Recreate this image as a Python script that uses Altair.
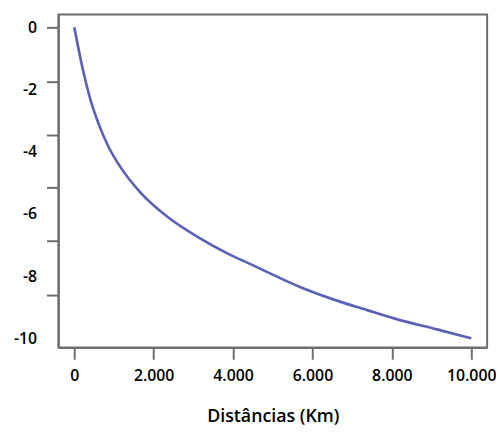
import json
import altair as alt
import pandas as pd

# Curve (distance in km, value)
dist_km = [0, 100, 224, 390, 597, 846, 1177, 1674, 2338, 3085, 3831, 4535,
           5655, 6485, 7396, 8226, 9137, 10000]
valores = [0, -0.65, -1.40, -2.25, -3.05, -3.80, -4.52, -5.32, -6.08, -6.72,
           -7.25, -7.67, -8.33, -8.73, -9.10, -9.42, -9.71, -10.0]

x_ticks = [0, 2000, 4000, 6000, 8000, 10000]
# tick marks of the original axis sit at these values, labels at their own values
y_tick_vals = [0, -1.746, -3.460, -5.143, -6.857, -8.603]
y_label_vals = [0, -2, -4, -6, -8, -10]
y_tick_labels = ["0", "-2", "-4", "-6", "-8", "-10"]

df = pd.DataFrame({"dist": dist_km, "valor": valores})

gray = "#6e6e6e"
font = "Open Sans"

idx = f"indexof({json.dumps(y_tick_vals)}, datum.value)"
y_label_expr = f"{json.dumps(y_tick_labels)}[{idx}]"
y_offset_expr = f"scale('y', {json.dumps(y_label_vals)}[{idx}]) - scale('y', datum.value)"

chart = (
    alt.Chart(df)
    .mark_line(color="#5a62b8", strokeWidth=2.7, interpolate="monotone")
    .encode(
        x=alt.X(
            "dist:Q",
            scale=alt.Scale(domain=[-400, 10400], nice=False, zero=False),
            axis=alt.Axis(
                values=x_ticks,
                labelExpr="replace(format(datum.value, ','), ',', '.')",
                title="Distâncias (Km)",
                titleFont=font,
                titleFontSize=18,
                titleFontWeight=600,
                titleColor="black",
                titlePadding=25,
                labelFont=font,
                labelFontSize=16,
                labelFontWeight=600,
                labelColor="black",
                labelPadding=8,
                tickSize=12,
                tickWidth=2,
                tickColor=gray,
                domainColor=gray,
                domainWidth=2,
                grid=False,
                labelFlush=False,
            ),
        ),
        y=alt.Y(
            "valor:Q",
            scale=alt.Scale(domain=[-10.29, 0.41], nice=False, zero=False),
            axis=alt.Axis(
                values=y_tick_vals,
                labelExpr=y_label_expr,
                labelOffset={"expr": y_offset_expr},
                title=None,
                labelFont=font,
                labelFontSize=16,
                labelFontWeight=600,
                labelColor="black",
                labelPadding=10,
                tickSize=12,
                tickWidth=2,
                tickColor=gray,
                domainColor=gray,
                domainWidth=2,
                grid=False,
                labelFlush=False,
                labelOverlap=False,
            ),
        ),
    )
    .properties(width=434, height=337, padding={"left": 5, "top": 4, "right": 0, "bottom": 0})
    .configure_view(stroke=gray, strokeWidth=2)
)

chart.save("out.html", embed_options={"renderer": "svg", "actions": False})
